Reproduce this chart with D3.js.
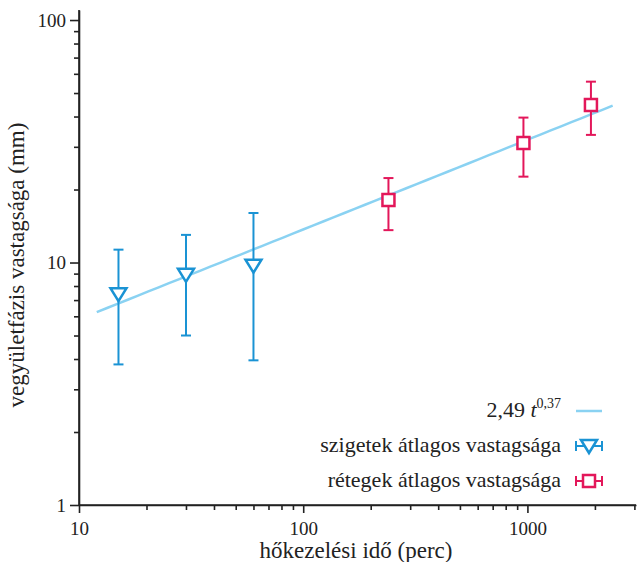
<!DOCTYPE html>
<html>
<head>
<meta charset="utf-8">
<script src="https://cdn.jsdelivr.net/npm/d3@7"></script>
<style>
  body { margin: 0; background: #fff; }
  text { font-family: "Liberation Serif", "DejaVu Serif", serif; fill: #222; }
  .axis path, .axis line { stroke: #222; stroke-width: 1.6; }
  .axis text { font-size: 19px; }
</style>
</head>
<body>
<svg id="chart"></svg>
<script>
// heat treatment time (min)
var islandTimes = [15, 30, 60]
var islandMean = [7.4, 8.9, 9.7]
var islandLow = [3.8, 5.0, 3.95]
var islandHigh = [11.3, 13.0, 16.0]

var layerTimes = [240, 960, 1920]
var layerMean = [18.1, 31.1, 44.6]
var layerLow = [13.6, 22.6, 33.6]
var layerHigh = [22.3, 39.6, 55.7]

// fit: 2.49 t^0.37
var fitA = 2.49
var fitB = 0.37
var fitTimes = [12, 2400]

var xTicks = [10, 100, 1000]
var yTicks = [1, 10, 100]

var screen = {width:637, height:562}
var margins = {left:79, right:1, top:10, bottom:57}
var graph = {
    width: screen.width - margins.left - margins.right,
    height: screen.height - margins.top - margins.bottom
}

var svg = d3.select("#chart")
    .attr("width", screen.width)
    .attr("height", screen.height)

var xScale = d3.scaleLog()
    .domain([10, 3050])
    .range([0, graph.width])

var yScale = d3.scaleLog()
    .domain([1, 110])
    .range([graph.height, 0])

var blue = "#1a93d4"
var red = "#e3175a"
var fitColor = "#8ad2f2"

var target = svg.append("g")
    .attr("transform", "translate(" + margins.left + "," + margins.top + ")")

// minor ticks
var minorX = []
;[10, 100, 1000].forEach(function(d) {
    for (var i = 2; i <= 9; i++) if (d * i <= 3050) minorX.push(d * i)
})
var minorY = []
;[1, 10].forEach(function(d) {
    for (var i = 2; i <= 9; i++) minorY.push(d * i)
})

target.append("g")
    .attr("class", "axis")
    .attr("transform", "translate(0," + graph.height + ")")
    .call(d3.axisBottom(xScale).tickValues(minorX).tickSize(5).tickFormat("").tickSizeOuter(0))

target.append("g")
    .attr("class", "axis")
    .attr("transform", "translate(0," + graph.height + ")")
    .call(d3.axisBottom(xScale).tickValues(xTicks).tickSize(8).tickPadding(9).tickFormat(d3.format("d")).tickSizeOuter(0))
    .call(function(g) { g.select(".domain").attr("d", "M0,0H" + graph.width) })

target.append("g")
    .attr("class", "axis")
    .call(d3.axisLeft(yScale).tickValues(minorY).tickSize(5).tickFormat("").tickSizeOuter(0))

target.append("g")
    .attr("class", "axis")
    .call(d3.axisLeft(yScale).tickValues(yTicks).tickSize(9).tickPadding(4).tickFormat(d3.format("d")).tickSizeOuter(0))
    .call(function(g) { g.select(".domain").attr("d", "M0,0V" + graph.height) })

// fit line
var fitLine = d3.line()
    .x(function(t) { return xScale(t) })
    .y(function(t) { return yScale(fitA * Math.pow(t, fitB)) })

target.append("path")
    .datum(d3.range(0, 51).map(function(i) {
        return fitTimes[0] * Math.pow(fitTimes[1] / fitTimes[0], i / 50)
    }))
    .attr("d", fitLine)
    .attr("fill", "none")
    .attr("stroke", fitColor)
    .attr("stroke-width", 2.5)

var drawErrors = function(times, low, high, color)
{
    var g = target.append("g")
        .attr("stroke", color)
        .attr("stroke-width", 2)
    times.forEach(function(t, i) {
        var x = xScale(t)
        g.append("line").attr("x1", x).attr("x2", x)
            .attr("y1", yScale(low[i])).attr("y2", yScale(high[i]))
        g.append("line").attr("x1", x - 5).attr("x2", x + 5)
            .attr("y1", yScale(low[i])).attr("y2", yScale(low[i]))
        g.append("line").attr("x1", x - 5).attr("x2", x + 5)
            .attr("y1", yScale(high[i])).attr("y2", yScale(high[i]))
    })
}

var triangle = "M-8,-6L8,-6L0,7Z"
var square = "M-6,-6H6V6H-6Z"

drawErrors(islandTimes, islandLow, islandHigh, blue)
drawErrors(layerTimes, layerLow, layerHigh, red)

target.selectAll(".tri")
    .data(islandTimes)
    .enter()
    .append("path")
    .attr("d", triangle)
    .attr("transform", function(t, i) { return "translate(" + xScale(t) + "," + yScale(islandMean[i]) + ")" })
    .attr("fill", "#fff")
    .attr("stroke", blue)
    .attr("stroke-width", 2.5)

target.selectAll(".sq")
    .data(layerTimes)
    .enter()
    .append("path")
    .attr("d", square)
    .attr("transform", function(t, i) { return "translate(" + xScale(t) + "," + yScale(layerMean[i]) + ")" })
    .attr("fill", "#fff")
    .attr("stroke", red)
    .attr("stroke-width", 2.5)

// axis labels
svg.append("text")
    .text("hőkezelési idő (perc)")
    .attr("text-anchor", "middle")
    .attr("x", 356)
    .attr("y", 558)
    .attr("font-size", 23)

svg.append("g")
    .attr("transform", "translate(24,265)")
    .append("text")
    .text("vegyületfázis vastagsága (mm)")
    .attr("text-anchor", "middle")
    .attr("transform", "rotate(-90)")
    .attr("font-size", 23)

// legend
var legend = svg.append("g")
var lx = 589
var fitLabel = legend.append("text")
    .attr("x", 561).attr("y", 417)
    .attr("text-anchor", "end")
    .attr("font-size", 22)
fitLabel.append("tspan").text("2,49 ")
fitLabel.append("tspan").text("t").attr("font-style", "italic")
fitLabel.append("tspan").text("0,37").attr("font-size", 14).attr("dy", -9)

legend.append("line")
    .attr("x1", lx - 13).attr("x2", lx + 13)
    .attr("y1", 411).attr("y2", 411)
    .attr("stroke", fitColor).attr("stroke-width", 2.5)

var legendRows = [
    {name:"szigetek átlagos vastagsága", y:446, color:blue, shape:triangle},
    {name:"rétegek átlagos vastagsága", y:481, color:red, shape:square}
]
legendRows.forEach(function(r) {
    legend.append("text")
        .text(r.name)
        .attr("x", 561).attr("y", r.y + 6)
        .attr("text-anchor", "end")
        .attr("font-size", 22)
    var g = legend.append("g").attr("stroke", r.color).attr("stroke-width", 2)
    g.append("line").attr("x1", lx - 13).attr("x2", lx + 13).attr("y1", r.y).attr("y2", r.y)
    g.append("line").attr("x1", lx - 13).attr("x2", lx - 13).attr("y1", r.y - 5).attr("y2", r.y + 5)
    g.append("line").attr("x1", lx + 13).attr("x2", lx + 13).attr("y1", r.y - 5).attr("y2", r.y + 5)
    g.append("path").attr("d", r.shape)
        .attr("transform", "translate(" + lx + "," + r.y + ")")
        .attr("fill", "#fff").attr("stroke-width", 2.5)
})
</script>
</body>
</html>
